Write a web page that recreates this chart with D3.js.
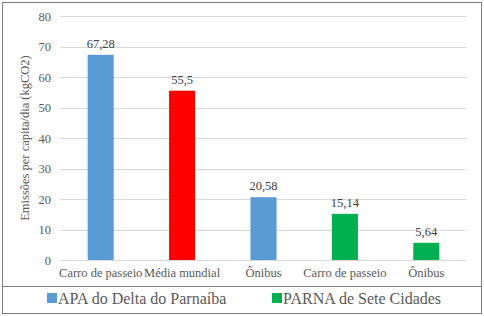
<!DOCTYPE html>
<html>
<head>
<meta charset="utf-8">
<script src="https://cdn.jsdelivr.net/npm/d3@7"></script>
</head>
<body style="margin:0">
<script>
// data
const categories = ["Carro de passeio", "Média mundial", "Ônibus", "Carro de passeio", "Ônibus"];
const values = [67.28, 55.5, 20.58, 15.14, 5.64];
const valueLabels = ["67,28", "55,5", "20,58", "15,14", "5,64"];
const groups = ["APA", "world", "APA", "PARNA", "PARNA"];
const yTicks = [0, 10, 20, 30, 40, 50, 60, 70, 80];
const legendNames = ["APA do Delta do Parnaíba", "PARNA de Sete Cidades"];

const FONT = "Liberation Serif";
const W = 484, H = 316;
const margin = { top: 16, right: 17, bottom: 56, left: 60 };
const width = W - margin.left - margin.right,
    height = H - margin.top - margin.bottom;

const color = { APA: "#5b9bd5", world: "#ff0000", PARNA: "#00b050" };

const svg = d3.select("body")
    .append("svg")
    .attr("width", W)
    .attr("height", H);

// outer frame
svg.append("rect")
    .attr("x", 2.5).attr("y", 2.5)
    .attr("width", W - 5).attr("height", H - 5)
    .attr("fill", "#fff")
    .attr("stroke", "#7f7f7f");

// separator above legend
svg.append("line")
    .attr("x1", 2.5).attr("x2", W - 2.5)
    .attr("y1", 286.5).attr("y2", 286.5)
    .attr("stroke", "#7f7f7f");

const g = svg.append("g")
    .attr("transform", `translate(${margin.left},${margin.top})`);

const x = d3.scaleBand()
    .domain(d3.range(categories.length))
    .range([0, width])
    .paddingInner(0.68)
    .paddingOuter(0.34);

const y = d3.scaleLinear()
    .domain([0, 80])
    .range([height, 0]);

// gridlines
g.append("g")
    .selectAll("line")
    .data(yTicks)
    .join("line")
    .attr("x1", 0).attr("x2", width)
    .attr("y1", d => Math.round(y(d)) + 0.5)
    .attr("y2", d => Math.round(y(d)) + 0.5)
    .attr("stroke", "#d9d9d9");

// y axis labels
const yAxis = g.append("g")
    .call(d3.axisLeft(y).tickValues(yTicks).tickSize(0).tickPadding(9))
    .attr("font-family", FONT)
    .attr("font-size", 12.5);
yAxis.select(".domain").remove();
yAxis.selectAll("text")
    .attr("fill", "#595959");

// x axis labels
const xAxis = g.append("g")
    .attr("transform", `translate(0,${height})`)
    .call(d3.axisBottom(x).tickFormat(i => categories[i]).tickSize(0).tickPadding(8))
    .attr("font-family", FONT)
    .attr("font-size", 12.5);
xAxis.select(".domain").remove();
xAxis.selectAll("text")
    .attr("fill", "#595959");

// bars
g.selectAll(".bar")
    .data(values)
    .join("rect")
    .attr("class", "bar")
    .attr("x", (d, i) => x(i))
    .attr("y", d => y(d))
    .attr("width", x.bandwidth())
    .attr("height", d => height - y(d))
    .attr("fill", (d, i) => color[groups[i]]);

// value labels
g.selectAll(".val")
    .data(values)
    .join("text")
    .attr("class", "val")
    .attr("x", (d, i) => x(i) + x.bandwidth() / 2)
    .attr("y", d => y(d) - 7)
    .attr("text-anchor", "middle")
    .attr("fill", "#404040")
    .attr("font-family", FONT)
    .attr("font-size", 12.5)
    .text((d, i) => valueLabels[i]);

// y axis title
svg.append("text")
    .attr("transform", `translate(29,${margin.top + height / 2}) rotate(-90)`)
    .attr("text-anchor", "middle")
    .attr("fill", "#595959")
    .attr("font-family", FONT)
    .attr("font-size", 12.5)
    .text("Emissões per capita/dia (kgCO2)");

// legend
const legendX = [47, 272];
const leg = svg.selectAll(".leg")
    .data(legendNames)
    .join("g")
    .attr("class", "leg")
    .attr("transform", (d, i) => `translate(${legendX[i]},298)`);
leg.append("rect")
    .attr("x", 0).attr("y", -5)
    .attr("width", 10).attr("height", 10)
    .attr("fill", (d, i) => i === 0 ? color.APA : color.PARNA);
leg.append("text")
    .attr("x", 11)
    .attr("y", 5.5)
    .attr("fill", "#595959")
    .attr("font-family", FONT)
    .attr("font-size", 16)
    .text(d => d);
</script>
</body>
</html>
